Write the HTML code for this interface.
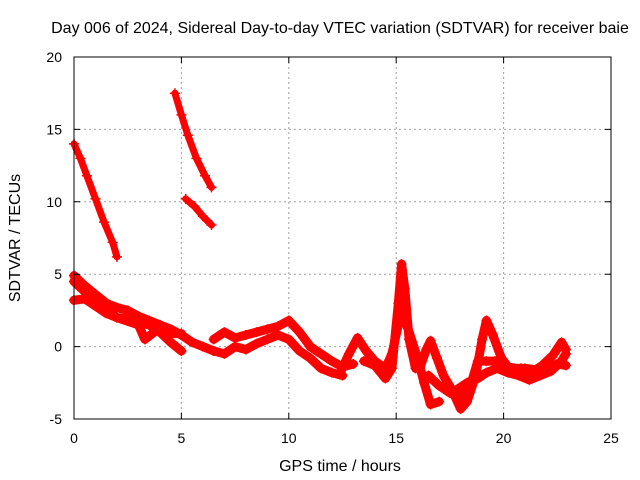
<!DOCTYPE html>
<html><head><meta charset="utf-8"><style>
body{margin:0;background:#fff}
svg{display:block;font-family:"Liberation Sans",sans-serif}
</style></head><body>
<svg id="chart" width="640" height="480" xmlns="http://www.w3.org/2000/svg">
<text x="340" y="33" font-size="16" text-anchor="middle">Day 006 of 2024, Sidereal Day-to-day VTEC variation (SDTVAR) for receiver baie</text>
<text transform="translate(20,238) rotate(-90)" font-size="16" text-anchor="middle">SDTVAR / TECUs</text>
<text x="340" y="471" font-size="16" text-anchor="middle">GPS time / hours</text>
<g id="grid"></g><g id="series"></g><g id="axes"></g>
</svg>
<script>
const xTicks=[0,5,10,15,20,25];
const yTicks=[-5,0,5,10,15,20];
const seriesA=[[0,14],[0.3,13],[0.6,11.8],[1,10.2],[1.4,8.6],[1.8,7.2],[2,6.2]];
const seriesB=[[4.7,17.5],[5,16],[5.3,14.6],[5.7,13],[6.1,11.8],[6.4,11]];
const seriesC=[[5.2,10.2],[5.6,9.7],[6,9.0],[6.4,8.4]];
const seriesD=[[0,4.9],[0.5,4.2],[1,3.6],[1.5,3.0],[2,2.7],[2.5,2.5],[3,2.1],[3.5,1.8],[4,1.5],[4.5,1.2],[5,0.8],[5.5,0.3],[6,0.0],[6.5,-0.3]];
const seriesE=[[0,3.2],[0.5,3.3],[1,2.8],[1.5,2.3],[2,2.0],[2.5,1.9],[3,1.7],[3.5,1.5],[4,1.0],[4.5,0.3],[5,-0.3]];
const seriesF=[[0,4.5],[0.5,3.8],[1,3.1],[1.5,2.5],[2,2.0],[3,1.5],[3.3,0.5],[4,1.3],[4.5,0.9],[5,0.9]];
const seriesG=[[6.5,0.5],[7,1.0],[7.5,0.6],[8,0.8],[8.5,1.0],[9,1.2],[9.5,1.4],[10,1.8],[10.5,1.0],[11,0.0],[11.5,-0.5],[12,-1.0],[12.5,-1.4],[13,-1.2]];
const seriesH=[[6.5,-0.3],[7,-0.5],[7.5,0.0],[8,-0.2],[8.5,0.2],[9,0.5],[9.5,0.8],[10,0.5],[10.5,-0.3],[11,-0.8],[11.5,-1.5],[12,-1.8],[12.5,-2.0]];
const seriesI=[[12.4,-1.8],[12.8,-0.5],[13.2,0.6],[13.6,-0.3],[14,-1.0],[14.5,-1.5],[14.8,-0.5],[15.1,1.5],[15.3,2.2],[15.6,1.0],[16,-0.8],[16.3,-2.5],[16.6,-4.0],[17,-3.8]];
const seriesJ=[[13.5,-1.0],[14,-1.3],[14.5,-2.2],[14.8,-1.5],[15.1,3],[15.25,5.7],[15.4,4],[15.6,0.5],[15.9,-1.5],[16.1,-1.5],[16.4,-0.2],[16.6,0.4],[16.9,-0.8],[17.2,-2],[17.6,-3],[18,-4.3],[18.3,-3.8],[18.7,-2],[19.0,0.5],[19.2,1.8],[19.5,0.8],[19.9,-0.8],[20.3,-1.6],[20.8,-1.5],[21.3,-1.8],[21.8,-1.3],[22.3,-0.6],[22.7,0.3],[22.9,-0.2]];
const seriesK=[[16.5,-2],[17,-2.7],[17.5,-3.2],[18,-3.5],[18.5,-2.5],[18.8,-1.0],[19.2,-1.0],[19.6,-1.0],[20,-1.3],[20.5,-1.5],[21,-1.5],[21.5,-1.6],[22,-1.5],[22.5,-1.2],[22.9,-1.3]];
const seriesL=[[17.8,-3.0],[18.3,-2.5],[18.8,-2.2],[19.2,-1.8],[19.7,-1.5],[20.2,-1.8],[20.7,-2.0],[21.2,-2.3],[21.7,-2.0],[22.2,-1.7],[22.7,-1.0],[22.9,-0.5]];
const allSeries=[seriesA,seriesB,seriesC,seriesD,seriesE,seriesF,seriesG,seriesH,seriesI,seriesJ,seriesK,seriesL];
const L=74,R=611,T=57,B=419;
const xs=v=>L+(v-0)/25*(R-L);
const ys=v=>B-(v+5)/25*(B-T);
const NS="http://www.w3.org/2000/svg";
function mk(tag,at,parent){const e=document.createElementNS(NS,tag);for(const k in at)e.setAttribute(k,at[k]);parent.appendChild(e);return e;}
const grid=document.getElementById('grid'),axes=document.getElementById('axes'),ser=document.getElementById('series');
xTicks.forEach(t=>{
 if(t>0&&t<25){const g=mk('line',{x1:xs(t),x2:xs(t),y1:T,y2:B,stroke:'#a0a0a0','stroke-dasharray':'2,3'},grid);
 }
 const tk=mk('path',{d:`M${xs(t)},${B}v-6M${xs(t)},${T}v6`,stroke:'#000'},axes);
 
 const tx=mk('text',{x:xs(t),y:B+24,'font-size':14,'text-anchor':'middle'},axes);tx.textContent=t;
 
});
yTicks.forEach(t=>{
 if(t>-5&&t<20){const g=mk('line',{x1:L,x2:R,y1:ys(t),y2:ys(t),stroke:'#a0a0a0','stroke-dasharray':'2,3'},grid);
 }
 const tk=mk('path',{d:`M${L},${ys(t)}h6M${R},${ys(t)}h-6`,stroke:'#000'},axes);
 
 const tx=mk('text',{x:L-12,y:ys(t)+5,'font-size':14,'text-anchor':'end'},axes);tx.textContent=t;
 
});
const fr=mk('rect',{x:L,y:T,width:R-L,height:B-T,fill:'none',stroke:'#000'},axes);

allSeries.forEach((s,i)=>{
 const p=mk('polyline',{points:s.map(d=>xs(d[0])+','+ys(d[1])).join(' '),fill:'none',stroke:'#ff0000','stroke-width':i<3?7:9,'stroke-linejoin':'round','stroke-linecap':'round'},ser);
 
 
 s.forEach(d=>{
  const m=mk('path',{d:`M${xs(d[0])-5},${ys(d[1])}h10M${xs(d[0])},${ys(d[1])-5}v10`,stroke:'#ff0000','stroke-width':1.5},ser);
  
  
 });
});
</script>
</body></html>
